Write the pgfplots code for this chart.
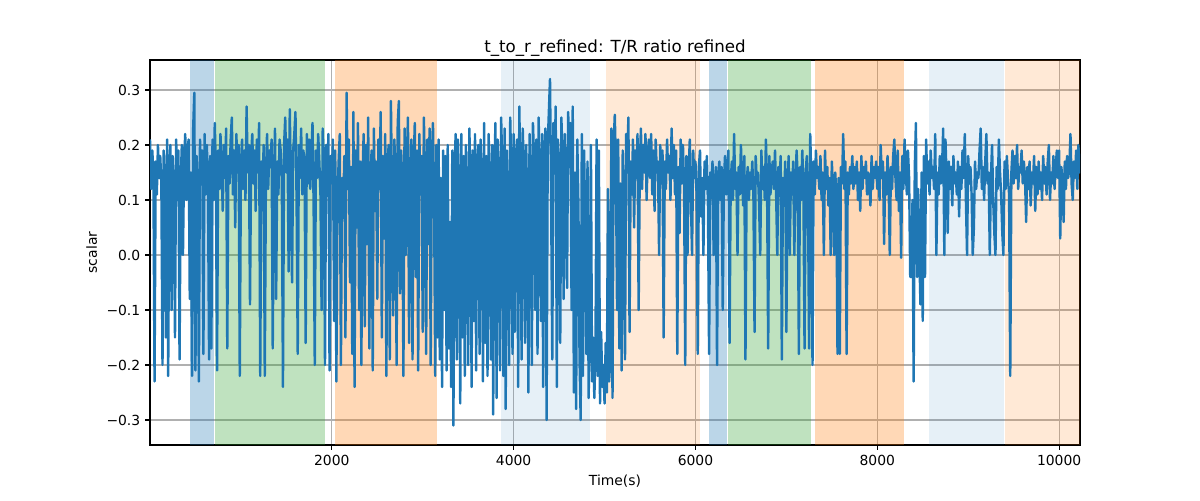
\documentclass[border=0pt]{standalone}
\usepackage{fontspec}
\setmainfont{DejaVu Sans}
\usepackage{pgfplots}
\usepackage{pgfplotstable}
\pgfplotsset{compat=1.18}
\definecolor{tabblue}{RGB}{31,119,180}
\definecolor{tabgreen}{RGB}{44,160,44}
\definecolor{taborange}{RGB}{255,127,14}
\definecolor{gridgray}{RGB}{176,176,176}
\pgfplotstableread[header=false,row sep=\\]{
0.21\\0.12\\0.19\\0.15\\-0.23\\0.17\\0.11\\0.20\\0.14\\0.18\\
0.13\\-0.20\\0.19\\0.12\\-0.15\\0.21\\-0.22\\0.16\\0.20\\-0.10\\
0.18\\0.12\\-0.15\\0.21\\0.14\\0.19\\-0.19\\0.13\\0.20\\0.00\\
0.17\\0.22\\0.10\\0.19\\0.21\\-0.08\\0.15\\-0.22\\0.23\\0.295\\
-0.21\\0.18\\0.12\\-0.23\\0.21\\0.14\\0.19\\-0.18\\0.22\\0.11\\
0.20\\0.13\\-0.19\\0.18\\-0.17\\0.21\\0.10\\0.24\\0.15\\-0.21\\
0.19\\0.12\\0.22\\0.16\\0.08\\0.20\\0.14\\0.23\\-0.17\\0.18\\
0.13\\0.21\\0.25\\0.11\\0.19\\0.05\\0.22\\0.15\\0.20\\-0.22\\
0.16\\0.21\\0.12\\0.19\\0.10\\0.27\\0.15\\0.20\\-0.09\\0.18\\
0.22\\0.13\\0.19\\0.08\\0.21\\0.15\\0.24\\-0.22\\0.17\\0.11\\
0.20\\-0.22\\0.14\\0.22\\0.12\\0.19\\0.16\\0.21\\-0.17\\0.13\\
0.23\\-0.08\\0.17\\0.11\\0.21\\0.19\\0.14\\-0.24\\0.20\\0.25\\
0.15\\0.21\\-0.03\\0.265\\0.12\\-0.05\\0.19\\0.22\\0.26\\0.10\\
-0.18\\0.20\\0.14\\0.23\\0.11\\0.19\\0.16\\-0.16\\0.22\\0.13\\
0.21\\0.12\\0.18\\0.24\\0.09\\-0.20\\0.19\\0.14\\0.22\\0.17\\
0.11\\-0.10\\0.23\\0.16\\-0.20\\0.20\\0.13\\0.22\\-0.21\\0.18\\
0.15\\0.21\\-0.12\\0.19\\-0.23\\0.10\\0.17\\0.22\\-0.20\\0.14\\
0.08\\0.18\\-0.15\\0.295\\0.12\\0.21\\-0.05\\0.16\\-0.18\\0.26\\
-0.24\\0.19\\0.05\\0.24\\-0.10\\0.17\\-0.20\\0.14\\0.22\\-0.13\\
0.20\\0.02\\0.25\\-0.17\\0.13\\0.19\\-0.21\\0.23\\0.08\\0.17\\
-0.08\\0.21\\0.12\\0.26\\-0.15\\0.18\\0.03\\0.22\\-0.22\\0.16\\
0.20\\-0.19\\0.28\\0.10\\-0.11\\0.21\\0.15\\-0.20\\0.24\\0.28\\
-0.07\\0.19\\0.13\\-0.22\\0.23\\0.00\\0.17\\0.25\\-0.16\\0.12\\
0.21\\-0.19\\0.16\\0.24\\-0.04\\0.19\\-0.21\\0.22\\0.11\\0.18\\
-0.14\\0.25\\0.14\\-0.18\\0.21\\0.02\\0.23\\-0.20\\0.17\\0.24\\
0.10\\-0.22\\0.20\\-0.15\\0.21\\-0.19\\0.14\\-0.24\\0.19\\-0.10\\
0.18\\-0.21\\0.20\\-0.17\\0.06\\-0.24\\0.19\\-0.31\\0.16\\0.22\\
-0.19\\0.21\\0.12\\-0.27\\0.22\\-0.15\\0.18\\-0.22\\0.20\\0.08\\
-0.20\\0.23\\0.14\\-0.24\\0.19\\-0.12\\0.22\\-0.21\\0.16\\0.20\\
-0.18\\0.21\\0.10\\-0.23\\0.24\\-0.16\\0.18\\-0.22\\0.22\\0.12\\
-0.19\\0.20\\-0.29\\0.15\\0.24\\-0.26\\0.21\\0.13\\-0.21\\0.25\\
0.16\\-0.22\\0.23\\-0.28\\0.19\\0.10\\-0.20\\0.25\\0.14\\-0.18\\
0.22\\-0.14\\0.18\\0.21\\-0.24\\0.27\\0.11\\-0.19\\0.23\\0.15\\
-0.16\\0.20\\0.08\\-0.25\\0.22\\0.13\\-0.20\\0.24\\0.17\\-0.10\\
0.21\\-0.18\\0.25\\0.12\\-0.12\\0.22\\-0.24\\0.18\\0.23\\-0.30\\
0.20\\0.26\\0.32\\0.10\\-0.19\\0.24\\0.15\\0.27\\-0.24\\0.21\\
0.13\\-0.16\\0.25\\0.18\\-0.08\\0.22\\0.12\\-0.06\\0.26\\0.16\\
0.24\\-0.10\\0.27\\-0.25\\0.15\\-0.28\\0.21\\0.09\\-0.19\\-0.30\\
0.22\\-0.22\\0.19\\0.05\\-0.18\\0.17\\-0.26\\-0.12\\0.20\\-0.23\\
-0.15\\-0.26\\-0.18\\0.21\\-0.22\\0.19\\-0.27\\-0.14\\-0.24\\-0.20\\
-0.27\\-0.16\\-0.25\\0.12\\-0.23\\-0.19\\0.23\\-0.26\\0.20\\0.255\\
0.16\\-0.10\\0.21\\-0.17\\0.13\\-0.21\\0.19\\0.09\\-0.19\\0.22\\
0.18\\0.25\\-0.14\\0.17\\0.11\\0.21\\0.05\\0.19\\0.14\\0.22\\
-0.10\\0.16\\0.23\\0.12\\0.20\\0.15\\0.22\\0.10\\0.18\\0.21\\
0.14\\0.22\\0.11\\0.19\\0.08\\0.21\\0.15\\0.17\\0.00\\0.20\\
0.13\\0.19\\-0.15\\0.17\\0.12\\0.21\\0.15\\0.18\\0.10\\0.23\\
0.14\\0.20\\0.11\\0.19\\-0.18\\0.16\\0.04\\0.21\\0.13\\0.20\\
0.12\\-0.20\\0.18\\0.00\\0.15\\0.21\\0.10\\0.00\\0.19\\0.14\\
0.17\\0.11\\-0.18\\0.16\\0.19\\0.07\\0.14\\0.00\\0.17\\0.12\\
0.18\\0.09\\-0.18\\0.15\\0.12\\0.17\\0.00\\0.13\\0.16\\-0.20\\
0.14\\0.17\\0.10\\0.16\\-0.10\\0.13\\0.18\\0.11\\0.15\\0.19\\
-0.16\\0.13\\0.17\\0.10\\0.22\\0.12\\0.15\\0.00\\0.16\\0.11\\
0.20\\0.14\\0.09\\0.18\\-0.19\\0.13\\0.16\\0.10\\0.15\\0.12\\
0.17\\0.11\\-0.14\\0.18\\0.13\\0.15\\0.09\\0.00\\0.19\\0.12\\
0.16\\0.10\\0.21\\0.13\\-0.17\\0.18\\0.11\\0.15\\0.17\\0.12\\
0.19\\0.11\\0.00\\0.16\\0.13\\0.18\\-0.19\\0.14\\0.10\\0.17\\
-0.14\\0.12\\0.18\\0.00\\0.15\\0.11\\0.17\\0.00\\0.13\\0.19\\
0.14\\-0.18\\0.16\\0.10\\0.19\\0.12\\-0.17\\0.15\\0.18\\0.11\\
-0.17\\0.22\\0.13\\-0.20\\0.17\\0.11\\0.19\\0.14\\0.16\\0.12\\
0.18\\0.10\\0.15\\0.00\\0.19\\0.12\\0.16\\0.09\\0.14\\0.00\\
0.17\\0.12\\0.00\\0.15\\0.11\\-0.18\\0.14\\-0.18\\0.16\\0.13\\
0.22\\0.12\\0.17\\-0.18\\0.15\\0.11\\0.16\\0.13\\0.18\\0.12\\
0.16\\0.13\\0.17\\0.10\\0.15\\0.08\\0.18\\0.12\\0.16\\0.14\\
0.17\\0.11\\0.15\\0.13\\0.09\\0.18\\0.12\\0.16\\0.14\\0.17\\
0.12\\0.16\\0.10\\0.20\\0.14\\0.17\\0.02\\0.15\\0.11\\0.18\\
0.13\\0.00\\0.16\\0.12\\0.18\\0.21\\0.14\\0.10\\0.19\\0.08\\
0.15\\-0.005\\0.18\\0.12\\0.21\\0.16\\0.11\\0.19\\0.14\\-0.04\\
-0.04\\0.10\\-0.23\\0.16\\0.24\\-0.04\\0.12\\0.00\\-0.09\\0.15\\
-0.12\\0.18\\-0.04\\0.21\\0.13\\0.17\\0.11\\0.19\\0.14\\0.16\\
0.12\\0.22\\0.00\\0.15\\0.11\\0.18\\0.13\\0.16\\0.23\\0.00\\
0.21\\0.14\\0.04\\0.17\\0.12\\0.16\\0.09\\0.18\\0.13\\0.15\\
0.11\\0.17\\0.07\\0.16\\0.12\\0.19\\0.14\\0.22\\0.10\\0.00\\
0.18\\0.13\\0.16\\0.11\\0.00\\0.05\\0.17\\0.12\\0.15\\0.14\\
0.19\\0.23\\0.12\\0.16\\0.10\\0.17\\0.22\\0.13\\0.15\\0.00\\
0.14\\0.20\\0.10\\0.04\\0.00\\0.16\\0.12\\0.21\\0.15\\0.11\\
0.04\\0.00\\0.17\\0.12\\0.18\\0.14\\0.11\\-0.22\\0.15\\0.19\\
0.13\\0.18\\0.14\\0.20\\0.12\\0.16\\0.15\\0.19\\0.13\\0.17\\
0.14\\0.06\\0.16\\0.12\\0.17\\0.09\\0.15\\0.13\\0.18\\0.08\\
0.16\\0.11\\0.17\\0.12\\0.15\\0.10\\0.18\\0.13\\0.16\\0.11\\
0.17\\0.20\\0.10\\0.15\\0.13\\0.18\\0.12\\0.16\\0.19\\0.14\\
0.19\\0.03\\0.16\\0.13\\0.06\\0.17\\0.12\\0.18\\0.14\\0.16\\
0.22\\0.13\\0.10\\0.17\\0.14\\0.19\\0.12\\0.20\\0.15\\0.18\\
}\tsdata
\begin{document}
\begin{tikzpicture}
\path[use as bounding box] (0,0) rectangle (864pt,360pt);
\begin{axis}[
  at={(108pt,39.6pt)}, anchor=south west,
  scale only axis, width=669.6pt, height=277.2pt,
  xmin=0, xmax=10230, ymin=-0.3455, ymax=0.3545,
  scaled x ticks=false, scaled y ticks=false,
  xtick={2000,4000,6000,8000,10000},
  xticklabels={2000,4000,6000,8000,10000},
  ytick={-0.3,-0.2,-0.1,0,0.1,0.2,0.3},
  yticklabels={−0.3,−0.2,−0.1,0.0,0.1,0.2,0.3},
  tick pos=left, tick align=outside, major tick length=3.5pt,
  tick style={black, line width=0.8pt},
  axis line style={line width=0.8pt},
  grid=major, major grid style={draw=gridgray, line width=0.8pt},
  ticklabel style={font=\fontsize{10}{12}\selectfont},
  label style={font=\fontsize{10}{12}\selectfont},
  xlabel={Time(s)}, ylabel={scalar},
  title={t\_to\_r\_refined: T/R ratio refined},
  title style={font=\fontsize{12}{14}\selectfont, yshift=-7pt},
]
\addplot[draw=none, fill=tabblue, fill opacity=0.3] coordinates {(440,-0.3455) (440,0.3545) (705,0.3545) (705,-0.3455)} -- cycle;
\addplot[draw=none, fill=tabgreen, fill opacity=0.3] coordinates {(715,-0.3455) (715,0.3545) (1923,0.3545) (1923,-0.3455)} -- cycle;
\addplot[draw=none, fill=taborange, fill opacity=0.3] coordinates {(2040,-0.3455) (2040,0.3545) (3155,0.3545) (3155,-0.3455)} -- cycle;
\addplot[draw=none, fill=tabblue, fill opacity=0.11] coordinates {(3863,-0.3455) (3863,0.3545) (4840,0.3545) (4840,-0.3455)} -- cycle;
\addplot[draw=none, fill=taborange, fill opacity=0.17] coordinates {(5019,-0.3455) (5019,0.3545) (6050,0.3545) (6050,-0.3455)} -- cycle;
\addplot[draw=none, fill=tabblue, fill opacity=0.3] coordinates {(6153,-0.3455) (6153,0.3545) (6351,0.3545) (6351,-0.3455)} -- cycle;
\addplot[draw=none, fill=tabgreen, fill opacity=0.3] coordinates {(6359,-0.3455) (6359,0.3545) (7272,0.3545) (7272,-0.3455)} -- cycle;
\addplot[draw=none, fill=taborange, fill opacity=0.3] coordinates {(7320,-0.3455) (7320,0.3545) (8296,0.3545) (8296,-0.3455)} -- cycle;
\addplot[draw=none, fill=tabblue, fill opacity=0.11] coordinates {(8564,-0.3455) (8564,0.3545) (9389,0.3545) (9389,-0.3455)} -- cycle;
\addplot[draw=none, fill=taborange, fill opacity=0.17] coordinates {(9400,-0.3455) (9400,0.3545) (10230,0.3545) (10230,-0.3455)} -- cycle;
\addplot[draw=tabblue, line width=1.75pt, line join=round, no markers] table[x expr=\coordindex*12.5, y index=0] {\tsdata};
\end{axis}
\end{tikzpicture}
\end{document}
